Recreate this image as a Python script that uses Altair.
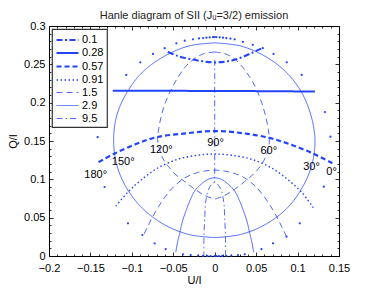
import altair as alt
import pandas as pd

BLUE = "#2244ff"
FONT = "Liberation Sans"
W, H = 290, 230

series_names = ["0.1", "0.28", "0.57", "0.91", "1.5", "2.9", "9.5"]
dash_range = [[6, 2.5, 2, 2.5], [1, 0], [5, 3], [1.5, 2.5], [6, 4], [1, 0], [6, 3, 1.5, 3]]
width_range = [2, 2, 2.2, 1.4, 0.8, 0.8, 0.8]

# constant-field curves
h01_U = [0.056, 0.045, 0.03, 0.015, 0.0, -0.015, -0.03, -0.045, -0.057]
h01_Q = [0.2705, 0.265, 0.258, 0.254, 0.2525, 0.254, 0.257, 0.261, 0.2665]
h028_U = [0.121, 0.06, 0.0, -0.06, -0.123]
h028_Q = [0.2145, 0.215, 0.2152, 0.2155, 0.2155]
h057_U = [0.142, 0.118, 0.09, 0.066, 0.035, 0.0, -0.035, -0.07, -0.095, -0.122, -0.1425]
h057_Q = [0.121, 0.134, 0.146, 0.154, 0.16, 0.163, 0.16, 0.155, 0.146, 0.133, 0.121]
h091_U = [0.119, 0.105, 0.09, 0.07, 0.045, 0.02, 0.0, -0.02, -0.045, -0.07, -0.09, -0.105, -0.121]
h091_Q = [0.063, 0.083, 0.098, 0.114, 0.126, 0.1315, 0.133, 0.1315, 0.126, 0.114, 0.098, 0.083, 0.063]
h15_U = [0.087, 0.081, 0.075, 0.068, 0.06, 0.05, 0.036, 0.02, 0.0, -0.02, -0.036, -0.05, -0.06, -0.068, -0.075, -0.081, -0.087]
h15_Q = [0.025, 0.038, 0.051, 0.064, 0.077, 0.09, 0.102, 0.109, 0.112, 0.109, 0.102, 0.09, 0.077, 0.064, 0.051, 0.038, 0.025]
h29_U = [0.047, 0.045, 0.042, 0.039, 0.035, 0.03, 0.024, 0.016, 0.008, 0.0, -0.008, -0.016, -0.024, -0.03, -0.035, -0.039, -0.042, -0.045, -0.047]
h29_Q = [0.005, 0.017, 0.031, 0.045, 0.058, 0.072, 0.085, 0.094, 0.1, 0.102, 0.1, 0.094, 0.085, 0.072, 0.058, 0.045, 0.031, 0.017, 0.005]
h95_U = [0.013, 0.013, 0.012, 0.011, 0.008, 0.004, 0.0, -0.004, -0.008, -0.011, -0.012, -0.013, -0.013]
h95_Q = [0.0, 0.025, 0.05, 0.07, 0.085, 0.093, 0.096, 0.093, 0.085, 0.07, 0.05, 0.025, 0.0]

# constant-angle curves (30/150 deg, 60/120 deg, 90 deg)
a30_U = [0.0, 0.031, 0.06, 0.085, 0.104, 0.116, 0.121, 0.117, 0.105, 0.087, 0.061, 0.031, 0.0]
a30_Q = [0.278, 0.274, 0.261, 0.241, 0.215, 0.184, 0.151, 0.118, 0.088, 0.062, 0.041, 0.028, 0.024]
a150_U = [0.0, -0.031, -0.06, -0.086, -0.105, -0.118, -0.122, -0.118, -0.106, -0.087, -0.061, -0.031, 0.0]
a150_Q = [0.278, 0.274, 0.261, 0.241, 0.215, 0.184, 0.151, 0.118, 0.088, 0.062, 0.041, 0.028, 0.024]
a60_U = [0.0, 0.012, 0.024, 0.034, 0.043, 0.051, 0.057, 0.062, 0.065, 0.066, 0.065, 0.061, 0.055, 0.046, 0.036, 0.024, 0.012, 0.0]
a60_Q = [0.266, 0.264, 0.257, 0.246, 0.232, 0.216, 0.199, 0.18, 0.163, 0.152, 0.141, 0.128, 0.117, 0.106, 0.097, 0.087, 0.079, 0.074]
a120_U = [0.0, -0.013, -0.025, -0.036, -0.045, -0.053, -0.06, -0.065, -0.068, -0.069, -0.067, -0.063, -0.056, -0.047, -0.036, -0.024, -0.012, 0.0]
a120_Q = [0.266, 0.264, 0.257, 0.246, 0.232, 0.216, 0.199, 0.18, 0.163, 0.152, 0.141, 0.128, 0.117, 0.106, 0.097, 0.087, 0.079, 0.074]
a90_U = [0.0, 0.0]
a90_Q = [0.256, 0.096]

# 0 / 180 deg curve, drawn as separate dots
dots_U = [0.0, 0.002, 0.006, 0.01, 0.014, 0.019, 0.024, 0.034, 0.046, 0.058, 0.071, 0.087, 0.105,
          0.133, 0.1397, 0.1316, 0.1027, 0.0866, 0.0704, 0.0564, 0.0362, 0.028, 0.02, 0.014, 0.009, 0.005, 0.002,
          -0.002, -0.006, -0.01, -0.014, -0.019, -0.0262, -0.0362, -0.0463, -0.0604, -0.0745, -0.0898, -0.1068,
          -0.1353, -0.1413, -0.1329, -0.1047, -0.0873, -0.0725, -0.0592, -0.0383, -0.029, -0.02, -0.014, -0.009, -0.005, 0.0]
dots_Q = [0.2855, 0.2855, 0.2852, 0.2848, 0.2843, 0.2836, 0.2826, 0.2794, 0.2755, 0.271, 0.2635, 0.2526, 0.2361,
          0.1878, 0.1556, 0.0904, 0.0426, 0.0252, 0.0165, 0.0091, 0.0022, 0.0012, 0.0006, 0.0003, 0.0001, 0.0, 0.0,
          0.2855, 0.2852, 0.2848, 0.2843, 0.2838, 0.2826, 0.2809, 0.2774, 0.271, 0.2635, 0.2526, 0.2361,
          0.188, 0.155, 0.09, 0.0426, 0.0274, 0.0165, 0.0091, 0.0022, 0.0012, 0.0006, 0.0003, 0.0001, 0.0, 0.0]

angle_text = ["180°", "150°", "120°", "90°", "60°", "30°", "0°"]
angle_U = [-0.1437, -0.1105, -0.0644, 0.001, 0.0652, 0.1168, 0.141]
angle_Q = [0.1057, 0.1226, 0.138, 0.147, 0.137, 0.1165, 0.109]

x_major = [-0.2, -0.15, -0.1, -0.05, 0.0, 0.05, 0.1, 0.15]
y_major = [0.0, 0.05, 0.1, 0.15, 0.2, 0.25, 0.3]
x_all = [-0.2, -0.19, -0.18, -0.17, -0.16, -0.15, -0.14, -0.13, -0.12, -0.11, -0.1, -0.09, -0.08, -0.07,
         -0.06, -0.05, -0.04, -0.03, -0.02, -0.01, 0.0, 0.01, 0.02, 0.03, 0.04, 0.05, 0.06, 0.07, 0.08,
         0.09, 0.1, 0.11, 0.12, 0.13, 0.14, 0.15]
y_all = [0.0, 0.01, 0.02, 0.03, 0.04, 0.05, 0.06, 0.07, 0.08, 0.09, 0.1, 0.11, 0.12, 0.13, 0.14, 0.15,
         0.16, 0.17, 0.18, 0.19, 0.2, 0.21, 0.22, 0.23, 0.24, 0.25, 0.26, 0.27, 0.28, 0.29, 0.3]

curves = [
    ("0.1", "h01", h01_U, h01_Q),
    ("0.28", "h028", h028_U, h028_Q),
    ("0.57", "h057", h057_U, h057_Q),
    ("0.91", "h091", h091_U, h091_Q),
    ("1.5", "h15", h15_U, h15_Q),
    ("2.9", "h29", h29_U, h29_Q),
    ("9.5", "h95", h95_U, h95_Q),
    ("2.9", "a30", a30_U, a30_Q),
    ("2.9", "a150", a150_U, a150_Q),
    ("1.5", "a60", a60_U, a60_Q),
    ("1.5", "a120", a120_U, a120_Q),
    ("9.5", "a90", a90_U, a90_Q),
]
rows = []
for s, p, us, qs in curves:
    for i, (u, q) in enumerate(zip(us, qs)):
        rows.append({"series": s, "path": p, "i": i, "U": u, "Q": q})
lines_df = pd.DataFrame(rows)
dots_df = pd.DataFrame({"U": dots_U, "Q": dots_Q})
lab_df = pd.DataFrame({"U": angle_U, "Q": angle_Q, "t": angle_text})

xs = alt.Scale(domain=[-0.2, 0.15], nice=False, zero=False)
ys = alt.Scale(domain=[0, 0.3], nice=False, zero=False)

major_test = "abs(datum.value*20 - round(datum.value*20)) < 0.001"
tick_size = {"condition": {"test": major_test, "value": 4}, "value": 2}

common_lab = dict(ticks=False, domain=False, grid=False, format="~g", labelFont=FONT,
                  labelFontSize=11, labelColor="black", labelFlush=False, labelOverlap=False,
                  titleFont=FONT, titleFontSize=11, titleFontWeight="normal", titleColor="black")
ax_x_lab = alt.Axis(values=x_major, labelPadding=6, title="U/I", titleY=27,
                    titleBaseline="alphabetic", **common_lab)
ax_y_lab = alt.Axis(values=y_major, labelPadding=4, title="Q/I", titleX=-36, titleY=H / 2,
                    titleBaseline="middle", **common_lab)

common_tick = dict(labels=False, domain=False, grid=False, ticks=True, tickSize=tick_size,
                   tickColor="black", tickWidth=0.8, title=None)
ax_x_t1 = alt.Axis(orient="top", offset=-H, values=x_all, **common_tick)
ax_x_t2 = alt.Axis(orient="bottom", offset=-H, values=x_all, **common_tick)
ax_y_t1 = alt.Axis(orient="right", offset=-W, values=y_all, **common_tick)
ax_y_t2 = alt.Axis(orient="left", offset=-W, values=y_all, **common_tick)

leg = alt.Legend(title=None, orient="top-left", offset=3, padding=3, fillColor="white",
                 strokeColor="#333333", symbolType="M-1,0H2.14", symbolSize=196,
                 symbolStrokeColor=BLUE, labelFont=FONT, labelFontSize=11, labelColor="black",
                 rowPadding=0, labelOffset=10)

lines = alt.Chart(lines_df).mark_line(interpolate="catmull-rom", color=BLUE).encode(
    x=alt.X("U:Q", scale=xs, axis=ax_x_lab),
    y=alt.Y("Q:Q", scale=ys, axis=ax_y_lab),
    strokeDash=alt.StrokeDash("series:O", scale=alt.Scale(domain=series_names, range=dash_range), legend=leg),
    strokeWidth=alt.StrokeWidth("series:O", scale=alt.Scale(type="ordinal", domain=series_names, range=width_range), legend=leg),
    detail="path:N",
    order="i:Q",
)

dots = alt.Chart(dots_df).mark_circle(size=5, color=BLUE, opacity=1).encode(
    x=alt.X("U:Q", scale=xs, axis=ax_x_t1),
    y=alt.Y("Q:Q", scale=ys, axis=ax_y_t1),
)

texts = alt.Chart(lab_df).mark_text(font=FONT, fontSize=11, color="black", align="center",
                                    baseline="middle").encode(
    x=alt.X("U:Q", scale=xs, axis=ax_x_t2),
    y=alt.Y("Q:Q", scale=ys, axis=ax_y_t2),
    text="t:N",
)

chart = alt.layer(lines, dots, texts).resolve_axis(x="independent", y="independent").properties(
    width=W, height=H,
    title=alt.TitleParams("Hanle diagram of SII (Jᵤ=3/2) emission", font=FONT, fontSize=11,
                          fontWeight="normal", color="#222222", anchor="middle", frame="group",
                          baseline="alphabetic", offset=-10),
    padding={"left": 41, "top": 18, "right": 20, "bottom": 30},
    autosize=alt.AutoSizeParams(type="none"),
).configure_view(stroke="black", strokeWidth=1).configure_legend(strokeWidth=1.2)

chart.save("out.html", embed_options={"renderer": "svg", "actions": False})
